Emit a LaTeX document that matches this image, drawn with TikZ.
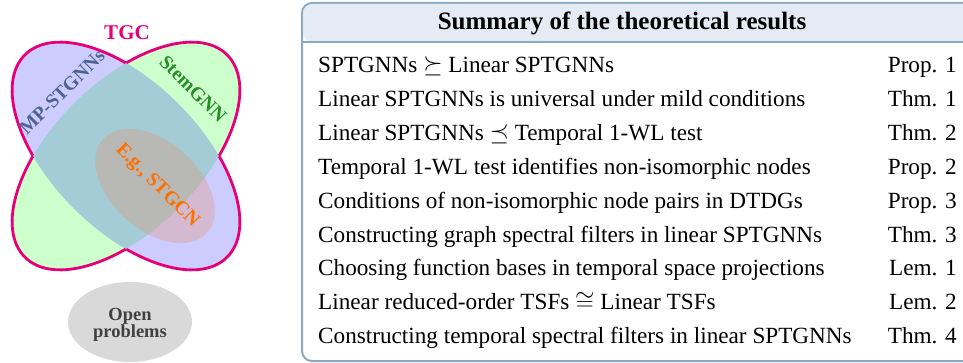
\documentclass[tikz,border=0pt]{standalone}
\usepackage{fontspec}
\setmainfont{Liberation Serif}
\usetikzlibrary{positioning}

\definecolor{tgcpink}{RGB}{230,0,120}
\definecolor{mpblue}{RGB}{80,98,145}
\definecolor{stemgreen}{RGB}{40,140,40}
\definecolor{stgcnorange}{RGB}{255,110,0}
\definecolor{stgcnfill}{RGB}{234,141,105}
\definecolor{boxline}{RGB}{138,170,196}
\definecolor{boxhead}{RGB}{229,235,244}
\definecolor{opengray}{RGB}{217,217,217}
\definecolor{opentext}{RGB}{64,64,64}

\begin{document}
\begin{tikzpicture}[x = 1pt, y = 1pt,
	label/.style = {font = \fontsize{19.5}{21}\selectfont\bfseries},
	border/.style = {draw = tgcpink, line width = 2.8pt},
	result/.style = {anchor = base west, inner sep = 0pt, font = \fontsize{23.2}{27}\selectfont},
	ref/.style = {anchor = base east, inner sep = 0pt, font = \fontsize{23.2}{27}\selectfont}]

	\useasboundingbox (0, 0) rectangle (963, 362);
	\clip (0, 0) rectangle (963, 362);

	% Venn diagram

	\coordinate (c) at (126, 206);

	\fill[green, fill opacity = 0.2, rotate around = {45:(c)}] (c) ellipse (143 and 74);
	\fill[blue, fill opacity = 0.2, rotate around = {-45:(c)}] (c) ellipse (143 and 74);
	\fill[stgcnfill, fill opacity = 0.3, rotate around = {-42:(155, 176)}] (155, 176) ellipse (70 and 44);

	% Outline of the union

	\begin{scope}[shift = {(c)}]
		\clip[rotate = -45] (-400, 400) -- (400, 400) -- (400, -400) -- (-400, -400) -- cycle (0, 0) ellipse (143 and 74);
		\draw[border, rotate = 45] (0, 0) ellipse (143 and 74);
	\end{scope}
	\begin{scope}[shift = {(c)}]
		\clip[rotate = 45] (-400, 400) -- (400, 400) -- (400, -400) -- (-400, -400) -- cycle (0, 0) ellipse (143 and 74);
		\draw[border, rotate = -45] (0, 0) ellipse (143 and 74);
	\end{scope}

	\node[label, text = tgcpink, font = \fontsize{21}{23}\selectfont\bfseries] (tgc) at (127, 329) {TGC};
	\node[label, text = mpblue, rotate = 45] (mp) at (62, 270) {MP-STGNNs};
	\node[label, text = stemgreen, rotate = -45] (stem) at (193, 273) {StemGNN};
	\node[label, text = stgcnorange, rotate = -45] (stgcn) at (157, 176) {E.g., STGCN};

	% Open problems

	\fill[opengray] (130, 40) ellipse (62 and 40);
	\node[align = center, text = opentext, font = \fontsize{18.5}{17.5}\selectfont\bfseries] (open) at (130, 37) {Open\\problems};

	% Summary box

	\draw[boxline, line width = 2pt, fill = white, rounded corners = 10] (302, 1) rectangle (990, 359);
	\fill[boxhead, rounded corners = 10] (303, 320) rectangle (989, 358);
	\draw[boxline, line width = 2pt] (302, 320) -- (990, 320);
	\node[anchor = base, font = \fontsize{25}{29}\selectfont\bfseries] (head) at (622, 332) {Summary of the theoretical results};

	\foreach \i/\txt/\thm in {
		1/{SPTGNNs $\succeq$ Linear SPTGNNs}/{Prop. 1},
		2/{Linear SPTGNNs is universal under mild conditions}/{Thm. 1},
		3/{Linear SPTGNNs $\preceq$ Temporal 1-WL test}/{Thm. 2},
		4/{Temporal 1-WL test identifies non-isomorphic nodes}/{Prop. 2},
		5/{Conditions of non-isomorphic node pairs in DTDGs}/{Prop. 3},
		6/{Constructing graph spectral filters in linear SPTGNNs}/{Thm. 3},
		7/{Choosing function bases in temporal space projections}/{Lem. 1},
		8/{Linear reduced-order TSFs $\cong$ Linear TSFs}/{Lem. 2},
		9/{Constructing temporal spectral filters in linear SPTGNNs}/{Thm. 4}}
	{
		\node[result] (r\i) at (318, 289.5 - 33.9 * \i + 33.9) {\txt};
		\node[ref] (t\i) at (957, 289.5 - 33.9 * \i + 33.9) {\thm};
	}

\end{tikzpicture}
\end{document}
